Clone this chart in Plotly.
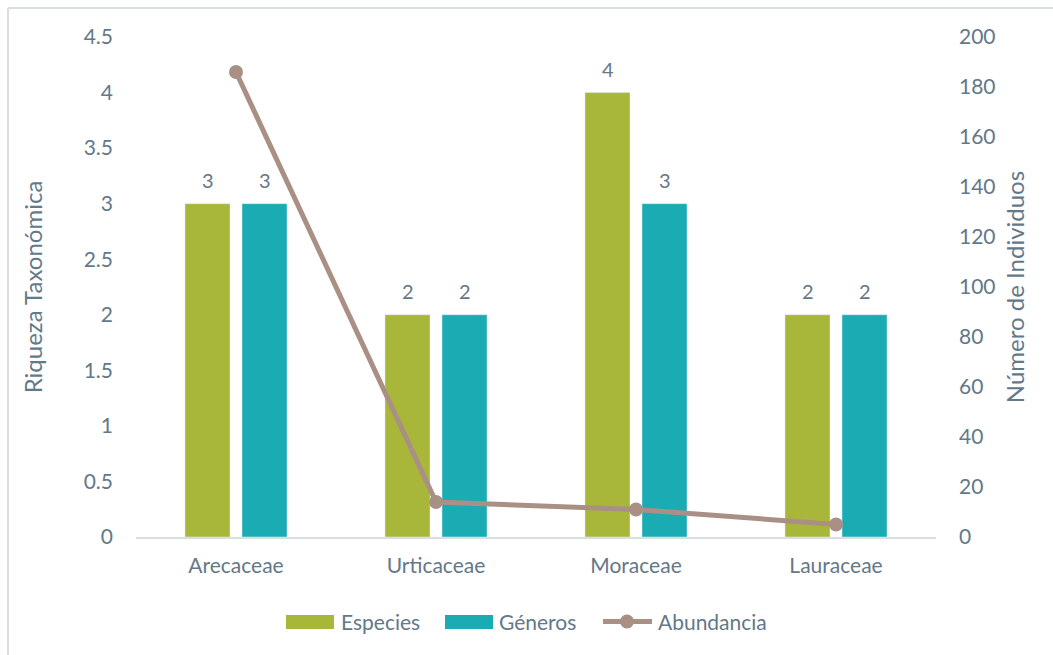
import plotly.graph_objects as go

categories = ["Arecaceae", "Urticaceae", "Moraceae", "Lauraceae"]
especies = [3, 2, 4, 2]
generos = [3, 2, 3, 2]
abundancia = [186, 14, 11, 5]

C_ESP = "#A8B73A"
C_GEN = "#1BABB3"
C_ABU = "#AA9084"
TXT = "#637888"
FONT = "Lato"

fig = go.Figure()
fig.add_trace(go.Bar(x=categories, y=especies, name="Especies", marker_color=C_ESP, yaxis="y"))
fig.add_trace(go.Bar(x=categories, y=generos, name="Géneros", marker_color=C_GEN, yaxis="y"))
fig.add_trace(go.Scatter(x=categories, y=abundancia, name="Abundancia", mode="lines+markers",
                         line=dict(color=C_ABU, width=5), marker=dict(size=14, color=C_ABU),
                         yaxis="y2"))

annotations = []
for vals, shift in ((especies, -28.5), (generos, 28.5)):
    for c, v in zip(categories, vals):
        annotations.append(dict(x=c, y=v, xref="x", yref="y", text=str(v), showarrow=False,
                                xshift=shift, yshift=10, yanchor="bottom",
                                font=dict(family=FONT, size=20, color=TXT)))

# custom legend (paper coords: x=(px-136)/800, y=(537-py)/500)
def px(v):
    return (v - 136) / 800

LY = (537 - 621.5) / 500
shapes = [
    dict(type="line", xref="paper", yref="paper", x0=-0.16, x1=1.15, y0=1.058, y1=1.058,
         line=dict(color="#D9DEE3", width=2)),
    dict(type="line", xref="paper", yref="paper", x0=-0.16, x1=-0.16, y0=1.058, y1=-0.24,
         line=dict(color="#D9DEE3", width=2)),
    dict(type="rect", xref="paper", yref="paper", x0=px(286), x1=px(334),
         y0=(537 - 615) / 500, y1=(537 - 629) / 500, fillcolor=C_ESP, line=dict(width=0)),
    dict(type="rect", xref="paper", yref="paper", x0=px(445), x1=px(493),
         y0=(537 - 615) / 500, y1=(537 - 629) / 500, fillcolor=C_GEN, line=dict(width=0)),
    dict(type="line", xref="paper", yref="paper", x0=px(603), x1=px(652), y0=LY, y1=LY,
         line=dict(color=C_ABU, width=5)),
    dict(type="circle", xref="paper", yref="paper", x0=px(620), x1=px(634),
         y0=(537 - 614.5) / 500, y1=(537 - 628.5) / 500, fillcolor=C_ABU, line=dict(width=0)),
]
for txt, x0 in (("Especies", 339), ("Géneros", 497), ("Abundancia", 656)):
    annotations.append(dict(x=px(x0), y=LY, xref="paper", yref="paper", text=txt,
                            showarrow=False, xanchor="left", yanchor="middle",
                            font=dict(family=FONT, size=21, color=TXT)))

fig.update_layout(
    width=1053, height=655,
    margin=dict(l=136, r=117, t=37, b=118),
    paper_bgcolor="white", plot_bgcolor="white",
    font=dict(family=FONT, size=21, color=TXT),
    barmode="group", bargap=0.43, bargroupgap=0.21,
    showlegend=False,
    xaxis=dict(showgrid=False, showline=True, linecolor="#D9DEE3", linewidth=1.5,
               ticks="", tickfont=dict(size=21, color=TXT), ticklabelstandoff=9),
    yaxis=dict(range=[0, 4.5], dtick=0.5, showgrid=False, zeroline=False, showline=False,
               tickfont=dict(size=21, color=TXT), ticklabelstandoff=22,
               title=dict(text="Riqueza Taxonómica", font=dict(size=24, color=TXT), standoff=34)),
    yaxis2=dict(range=[0, 200], dtick=20, overlaying="y", side="right", showgrid=False,
                zeroline=False, showline=False, tickfont=dict(size=21, color=TXT),
                ticklabelstandoff=22,
                title=dict(text="Número de Individuos", font=dict(size=24, color=TXT), standoff=12)),
    annotations=annotations,
    shapes=shapes,
)

fig.write_html("out.html")
